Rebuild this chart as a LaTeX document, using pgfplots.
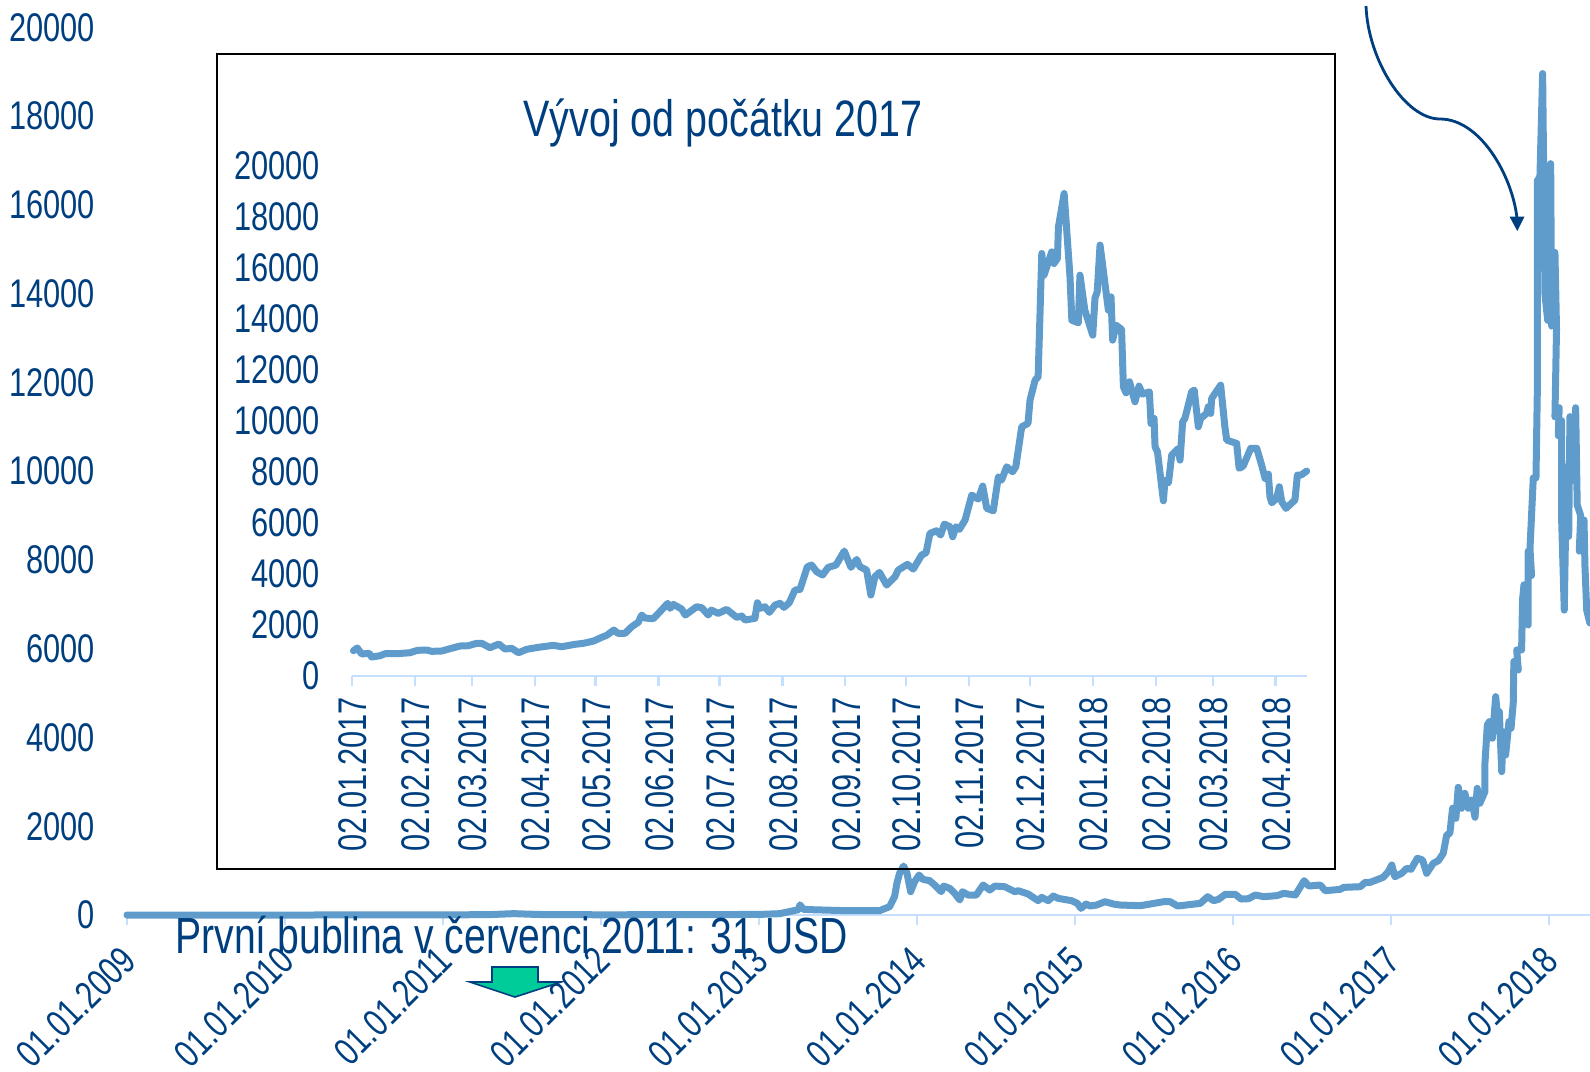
\documentclass[border=0pt]{standalone}
\usepackage{pgfplots}
\usepackage{fontspec}
\pgfplotsset{compat=1.18}
\setmainfont[FakeStretch=0.77]{Liberation Sans}
\definecolor{txt}{RGB}{0,63,127}
\definecolor{ser}{RGB}{95,155,203}
\definecolor{axl}{RGB}{197,224,255}
\definecolor{grn}{RGB}{0,204,153}
\pgfplotsset{
  common/.style={
    scale only axis,
    scaled ticks=false,
    axis y line*=left,
    axis x line*=bottom,
    y axis line style={draw=none},
    x axis line style={draw=axl,line width=1.2pt},
    xtick style={draw=axl,line width=1.2pt},
    ytick style={draw=none},
    tick align=outside,
    major tick length=5pt,
    ymin=0,ymax=20000,
    ytick={0,2000,...,20000},
    clip=false,
    tick label style={font=\fontsize{20}{22}\selectfont,text=txt},
    /pgf/number format/assume math mode=true,
    /pgf/number format/1000 sep={},
    yticklabel style={/pgf/number format/assume math mode=true,/pgf/number format/1000 sep={}},
  },
  ln/.style={color=ser,line width=3.5pt,line join=round,line cap=round,no markers},
}
\begin{document}
\begin{tikzpicture}
\path[use as bounding box] (0pt,0pt) rectangle (795pt,-535.5pt);
\begin{axis}[common,
  at={(63.5pt,-457.5pt)},anchor=south west,
  width=731.5pt,height=443.8pt,
  xmin=2009,xmax=2018.26,
  xtick={2009,2010,...,2018},
  xticklabels={01.01.2009,01.01.2010,01.01.2011,01.01.2012,01.01.2013,01.01.2014,01.01.2015,01.01.2016,01.01.2017,01.01.2018},
  xticklabel style={font=\fontsize{19.4}{22}\selectfont,rotate=45,anchor=north east,yshift=-0.5pt,xshift=-6pt},
  yticklabel style={xshift=-7.5pt},
]
\addplot[ln] coordinates {
(2009,0)(2010,0)(2010.5,1)(2011,1)(2011.3,10)(2011.45,31)(2011.6,12)(2012,5)(2012.5,8)(2013,13)(2013.13,30)(2013.25,120)
(2013.26,230)(2013.28,130)(2013.33,120)(2013.53,100)(2013.763,98)(2013.827,188)(2013.858,413)(2013.873,713)(2013.89,940)(2013.915,1104)(2013.937,939)(2013.96,526)
(2013.985,751)(2014.013,901)(2014.038,804)(2014.08,774)(2014.112,676)(2014.154,526)(2014.169,653)(2014.207,601)(2014.239,488)(2014.271,338)(2014.288,526)(2014.323,451)(2014.376,451)(2014.419,676)(2014.461,563)(2014.493,653)(2014.556,638)(2014.619,526)(2014.641,548)(2014.704,473)(2014.767,323)(2014.789,398)(2014.831,323)(2014.863,428)(2014.894,375)(2014.979,323)(2015.015,263)(2015.038,150)(2015.07,248)(2015.095,203)(2015.137,225)(2015.19,300)(2015.243,248)(2015.287,225)(2015.414,210)(2015.561,300)(2015.603,300)(2015.65,203)(2015.793,263)(2015.84,413)(2015.878,323)(2015.909,353)(2015.951,466)(2016.015,466)(2016.051,360)(2016.099,368)(2016.141,451)(2016.194,413)(2016.278,436)(2016.321,488)(2016.395,451)(2016.451,774)(2016.479,653)(2016.553,676)(2016.584,548)(2016.679,578)(2016.7,623)(2016.806,638)(2016.837,736)(2016.869,736)
(2016.951,850)(2016.983,976)(2017.005,1127)(2017.025,863)(2017.068,940)(2017.1,1052)(2017.127,1030)(2017.167,1278)(2017.2,1240)(2017.226,940)(2017.268,1165)(2017.3,1224)(2017.331,1390)(2017.353,1803)(2017.373,1841)(2017.39,2405)(2017.411,2180)(2017.426,2878)(2017.447,2405)(2017.468,2743)(2017.489,2405)(2017.511,2592)(2017.532,2202)(2017.546,2855)(2017.563,2518)(2017.595,2780)(2017.595,3419)(2017.61,4283)(2017.623,4357)(2017.642,3983)(2017.663,4920)(2017.674,4508)(2017.686,4582)(2017.701,3230)(2017.711,4132)(2017.726,3606)(2017.747,4357)(2017.76,4208)(2017.774,4772)(2017.778,5710)(2017.806,5522)(2017.796,5973)(2017.827,5973)(2017.833,7100)(2017.842,7440)(2017.869,6537)
(2017.869,8200)(2017.89,7650)(2017.88,8250)(2017.901,9850)(2017.918,9850)(2017.926,11700)(2017.926,16540)(2017.943,16640)(2017.96,18960)(2017.975,13980)(2017.992,13400)(2018.011,16930)(2018.017,13270)(2018.027,14930)(2018.038,14930)(2018.048,13200)(2018.038,11225)(2018.065,11430)(2018.059,10800)(2018.08,11140)(2018.08,8950)(2018.097,6870)(2018.112,10100)(2018.125,8530)(2018.133,11230)(2018.15,9800)(2018.169,11430)(2018.179,9240)(2018.201,9000)(2018.192,8200)(2018.222,8900)(2018.228,7860)(2018.239,6870)(2018.259,6580)
};
\end{axis}
\draw[black,line width=1pt] (108.5pt,-27pt) rectangle (667.5pt,-434.5pt);
\begin{axis}[common,
  at={(176pt,-338pt)},anchor=south west,
  width=477.35pt,height=255pt,
  xmin=0,xmax=470.3,
  xtick={0,31,59,90,120,151,181,212,243,273,304,334,365,396,424,455},
  xticklabels={02.01.2017,02.02.2017,02.03.2017,02.04.2017,02.05.2017,02.06.2017,02.07.2017,02.08.2017,02.09.2017,02.10.2017,02.11.2017,02.12.2017,02.01.2018,02.02.2018,02.03.2018,02.04.2018},
  xticklabel style={rotate=90,anchor=east,yshift=-0.5pt,xshift=-2pt},
  yticklabel style={xshift=-7.5pt},
]
\addplot[ln] coordinates {
(0.7,990)(2.6,1100)(4.8,862)(8.5,890)(9.7,745)(13.8,796)(16.3,874)(22,874)(28.6,913)(32.2,1007)(36.8,1019)(39.3,968)(44.2,980)(49,1086)(53.2,1176)(57.3,1188)(61.4,1282)(63.9,1282)(68,1110)(72.3,1254)(75.4,1058)(78.7,1086)(82,913)(86,1046)(91.8,1125)(99.2,1203)(103.3,1149)(109.9,1243)(114,1282)(119,1372)(123,1517)(125.5,1595)(129,1803)(131,1674)(134.5,1674)(137.8,1933)(141,2105)(142.7,2391)(144.3,2274)(148.4,2246)(151.7,2520)(155.5,2850)(156.7,2654)(158.3,2810)(162.4,2626)(164.2,2391)(169.8,2717)(172.3,2677)(175.5,2391)(177,2587)(180.4,2457)(184.6,2613)(189.5,2300)(192,2352)(193.6,2195)(198.5,2262)(199.7,2873)(201,2654)(203.4,2717)(205.6,2497)(208.4,2783)(210.8,2850)(212.8,2693)(215.4,2873)(218.2,3371)(220.7,3398)(224.3,4285)(226.4,4351)(228.9,4089)(231.8,3959)(234.6,4260)(238.4,4351)(242.5,4900)(245.8,4260)(248.6,4573)(250.2,4285)(253.5,4155)(255.6,3175)(257.6,3893)(259.8,4065)(263.4,3567)(267.5,3893)(269.1,4155)(273.6,4379)(276.5,4194)(280.6,4743)(282.8,4834)(284.7,5594)(288,5696)(290,5527)(291.8,5958)(294.6,5853)(295.9,5461)(297.5,5853)(299.2,5751)(302,6115)(305.3,7095)(308.5,6938)(310.7,7448)(312.7,6574)(315.9,6480)(318.4,7813)(320,7683)(322.5,8205)(325.4,8010)(327,8205)(329.9,9773)(333,9906)(334,10820)(336.5,11603)(338,11733)(339.8,16570)(340.9,15720)(344.7,16633)(345.8,16178)(347.5,16374)(348,17614)(350.8,18921)(353.7,15653)(354.6,13955)(357.8,13850)(358.6,15720)(361,14347)(364.9,13367)(366,14818)(367.1,15065)(368.5,16900)(372.6,14347)(373.9,14869)(374.7,13171)(376.4,13759)(379.1,13590)(380,11341)(381.3,11106)(383,11537)(385.7,10753)(387.7,11368)(389.4,11054)(392.8,11145)(393.6,9906)(395.1,10102)(395.6,8989)(396.8,8793)(399.7,6872)(400.5,7683)(402.2,7577)(403.8,8663)(407.1,8926)(407.9,8467)(409.2,9969)(410.3,10102)(413.6,11145)(414.9,11211)(416.9,9773)(418.1,10102)(421,10298)(421.8,10559)(423,10298)(423.5,10886)(427.9,11407)(430,9773)(430.9,9251)(435.8,9120)(437,8142)(439,8232)(442.7,8926)(445.7,8926)(448.1,8271)(449.8,7749)(451.4,7918)(452.2,7028)(453.1,6793)(455.5,6967)(456.8,7421)(458,6833)(460.1,6574)(464.5,6900)(465.7,7879)(467.5,7879)(470.3,8036)
};
\end{axis}
\begin{scope}[x=0.5pt,y=-0.5pt]
\node[text=txt,font=\fontsize{25.6}{28}\selectfont] at (723,123) {Vývoj od počátku 2017};
\node[text=txt,font=\fontsize{25.4}{28}\selectfont,anchor=west,inner sep=0pt] at (175,935) {První bublina v červenci 2011: 31 USD};
\draw[txt,fill=grn,line width=0.8pt] (492,967)--(538,967)--(538,982)--(561,982)--(515,997)--(470,982)--(492,982)--cycle;
\draw[txt,line width=1.4pt] (1366,6) .. controls (1368,60) and (1405,119) .. (1440,119) .. controls (1480,119) and (1512,175) .. (1517,218);
\fill[txt] (1509.5,216.5)--(1524.5,216.5)--(1517.3,231)--cycle;
\end{scope}
\end{tikzpicture}
\end{document}
